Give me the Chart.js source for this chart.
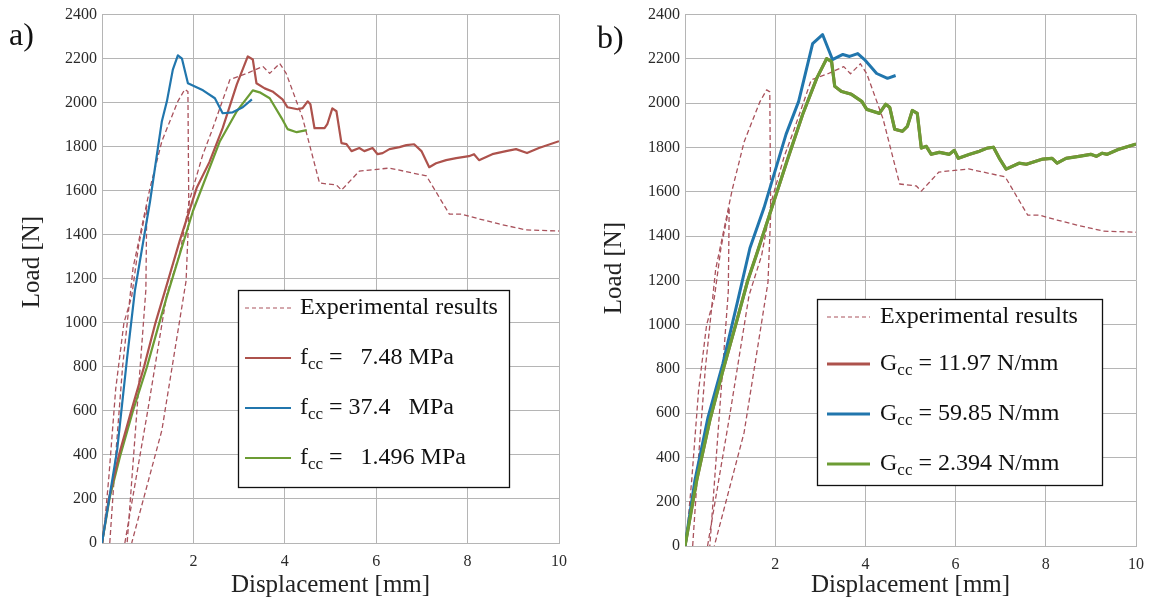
<!DOCTYPE html>
<html>
<head>
<meta charset="utf-8">
<script src="https://cdn.jsdelivr.net/npm/chart.js@4/dist/chart.umd.min.js"></script>
<style>
  html, body { margin: 0; padding: 0; background: #fff; }
  #wrap { position: relative; width: 1153px; height: 610px; }
  canvas { position: absolute; top: 0; }
  #ca { left: 0; }
  #cb { left: 576px; }
</style>
</head>
<body>
<div id="wrap">
  <canvas id="ca" width="576" height="610"></canvas>
  <canvas id="cb" width="577" height="610"></canvas>
</div>
<script>
// tick labels
var xTickValues = [0, 2, 4, 6, 8, 10];
var xTickLabels = ['', '2', '4', '6', '8', '10'];
var yTickValues = [0, 200, 400, 600, 800, 1000, 1200, 1400, 1600, 1800, 2000, 2200, 2400];

// experimental results (same test curves in both panels)
var expA_x = [0.02, 0.15, 0.3, 0.48, 0.65, 0.8, 0.98, 0.96, 0.55];
var expA_y = [0, 300, 700, 1000, 1120, 1350, 1530, 1150, 0];
var expB_x = [0.17, 0.3, 0.45, 0.68, 1.05, 1.2, 1.31, 1.66, 1.81, 1.88, 1.9, 1.84, 1.31, 0.65];
var expB_y = [0, 400, 800, 1250, 1612, 1734, 1825, 2006, 2060, 2051, 1500, 1191, 512, 0];
var expC_x = [0.5, 1.0, 1.42, 1.7, 1.92, 2.2, 2.4, 2.8, 3.17, 3.52, 3.67, 3.89, 4.03, 4.39, 4.76, 5.13, 5.24, 5.63, 6.29, 7.1, 7.6, 7.86, 8.25, 8.69, 9.28, 10];
var expC_y = [0, 600, 1132, 1313, 1560, 1760, 1870, 2105, 2133, 2165, 2133, 2178, 2133, 1930, 1635, 1626, 1603, 1689, 1703, 1667, 1494, 1494, 1472, 1449, 1422, 1417];

// panel a) simulations
var redA_x = [0, 0.15, 0.37, 0.64, 0.92, 1.17, 1.38, 1.7, 2.07, 2.35, 2.64, 2.95, 3.19, 3.3, 3.38, 3.56, 3.73, 3.95, 4.06, 4.28, 4.39, 4.5, 4.56, 4.65, 4.87, 4.93, 5.04, 5.13, 5.24, 5.35, 5.46, 5.63, 5.74, 5.92, 6.03, 6.14, 6.29, 6.51, 6.66, 6.83, 6.99, 7.16, 7.31, 7.53, 7.75, 8.03, 8.14, 8.25, 8.54, 8.84, 9.06, 9.3, 9.56, 10];
var redA_y = [0, 200, 400, 600, 800, 1000, 1146, 1372, 1612, 1730, 1884, 2083, 2210, 2196, 2088, 2065, 2051, 2015, 1979, 1970, 1975, 2006, 1993, 1884, 1884, 1902, 1974, 1961, 1816, 1812, 1780, 1794, 1780, 1794, 1766, 1771, 1789, 1798, 1807, 1811, 1780, 1707, 1725, 1739, 1748, 1757, 1766, 1739, 1766, 1780, 1789, 1771, 1794, 1825];
var blueA_x = [0, 0.07, 0.33, 0.55, 0.72, 1.05, 1.31, 1.42, 1.55, 1.66, 1.75, 1.88, 2.21, 2.47, 2.64, 2.86, 3.08, 3.28];
var blueA_y = [0, 90, 420, 842, 1146, 1550, 1916, 2006, 2150, 2215, 2200, 2088, 2056, 2020, 1952, 1956, 1979, 2015];
var greenA_x = [0, 0.17, 0.39, 0.68, 0.98, 1.2, 1.42, 1.99, 2.58, 2.95, 3.3, 3.45, 3.67, 3.93, 4.06, 4.26, 4.48];
var greenA_y = [0, 208, 390, 602, 797, 960, 1120, 1508, 1825, 1961, 2056, 2047, 2020, 1930, 1880, 1866, 1875];

// panel b) simulations
var greenB_x = [0, 0.26, 0.55, 0.84, 1.15, 1.39, 1.59, 1.88, 2.26, 2.61, 2.92, 3.14, 3.25, 3.32, 3.47, 3.69, 3.92, 4.03, 4.31, 4.45, 4.54, 4.65, 4.82, 4.93, 5.04, 5.15, 5.24, 5.35, 5.46, 5.64, 5.86, 5.97, 6.06, 6.31, 6.53, 6.7, 6.84, 6.97, 7.12, 7.41, 7.57, 7.92, 8.14, 8.25, 8.45, 8.74, 9.0, 9.12, 9.25, 9.36, 9.62, 10];
var greenB_y = [0, 297, 567, 792, 1018, 1198, 1319, 1499, 1738, 1950, 2112, 2201, 2188, 2076, 2053, 2040, 2008, 1972, 1954, 1995, 1981, 1882, 1873, 1895, 1967, 1954, 1797, 1805, 1769, 1778, 1769, 1787, 1751, 1769, 1783, 1797, 1801, 1751, 1702, 1729, 1724, 1747, 1751, 1729, 1751, 1760, 1769, 1760, 1774, 1769, 1792, 1815];
var redB_x = greenB_x;   // lies under the green curve
var redB_y = greenB_y;
var blueB_x = [0, 0.22, 0.51, 0.84, 1.17, 1.44, 1.75, 2.24, 2.52, 2.83, 3.05, 3.27, 3.5, 3.65, 3.83, 3.98, 4.25, 4.49, 4.67];
var blueB_y = [0, 297, 581, 824, 1108, 1346, 1526, 1859, 2008, 2269, 2310, 2197, 2220, 2211, 2224, 2197, 2134, 2112, 2125];

// legend texts
var legendA = [
  { main: 'Experimental results' },
  { main: 'f', sub: 'cc', rest: ' =   7.48 MPa' },
  { main: 'f', sub: 'cc', rest: ' = 37.4   MPa' },
  { main: 'f', sub: 'cc', rest: ' =   1.496 MPa' }
];
var legendB = [
  { main: 'Experimental results' },
  { main: 'G', sub: 'cc', rest: ' = 11.97 N/mm' },
  { main: 'G', sub: 'cc', rest: ' = 59.85 N/mm' },
  { main: 'G', sub: 'cc', rest: ' = 2.394 N/mm' }
];

var RED = '#ad524c', BLUE = '#2176ad', GREEN = '#6c9c34', EXP = '#a9525c';
var SERIF = '"Liberation Serif", "Times New Roman", serif';

function pts(xs, ys) {
  return xs.map(function (x, i) { return { x: x, y: ys[i] }; });
}

function expSet(xs, ys) {
  return { data: pts(xs, ys), borderColor: EXP, borderWidth: 1.3, borderDash: [5, 3], order: 5 };
}

// panel letter, vertical axis title and boxed legend with subscripts
var boxLegend = {
  id: 'boxLegend',
  afterDraw: function (chart, args, o) {
    var ctx = chart.ctx;
    ctx.save();
    ctx.fillStyle = '#111';
    ctx.textBaseline = 'alphabetic';
    ctx.font = '32px ' + SERIF;
    ctx.fillText(o.letter, o.letterX, o.letterY);

    ctx.save();
    ctx.translate(o.yTitle[0], o.yTitle[1]);
    ctx.rotate(-Math.PI / 2);
    ctx.textAlign = 'center';
    ctx.textBaseline = 'middle';
    ctx.fillStyle = '#222';
    ctx.font = '25px ' + SERIF;
    ctx.fillText('Load [N]', 0, 0);
    ctx.restore();

    var b = o.box;
    ctx.fillStyle = '#fff';
    ctx.fillRect(b[0], b[1], b[2], b[3]);
    ctx.strokeStyle = '#111';
    ctx.lineWidth = 1.3;
    ctx.strokeRect(b[0] + 0.5, b[1] + 0.5, b[2], b[3]);

    o.rows.forEach(function (r, i) {
      var y = o.rowY[i];
      ctx.strokeStyle = o.colors[i];
      ctx.lineWidth = i === 0 ? 1.2 : o.lineW;
      ctx.setLineDash(i === 0 ? [4, 3] : []);
      ctx.beginPath();
      ctx.moveTo(o.lineX[0], y);
      ctx.lineTo(o.lineX[1], y);
      ctx.stroke();
      ctx.setLineDash([]);

      ctx.fillStyle = '#111';
      ctx.textBaseline = 'middle';
      ctx.font = '24px ' + SERIF;
      var x = o.textX;
      ctx.fillText(r.main, x, y);
      x += ctx.measureText(r.main).width;
      if (r.sub) {
        ctx.font = '17px ' + SERIF;
        ctx.fillText(r.sub, x, y + 7);
        x += ctx.measureText(r.sub).width;
        ctx.font = '24px ' + SERIF;
        ctx.fillText(r.rest, x, y);
      }
    });
    ctx.restore();
  }
};

function makePanel(id, datasets, g, legendOpts) {
  new Chart(document.getElementById(id), {
    type: 'line',
    data: { datasets: datasets },
    plugins: [boxLegend],
    options: {
      responsive: false,
      animation: false,
      layout: { padding: { top: 13, right: g.right, left: 0, bottom: 0 } },
      elements: { point: { radius: 0 }, line: { tension: 0, borderJoinStyle: 'round', fill: false } },
      plugins: { legend: { display: false }, tooltip: { enabled: false }, boxLegend: legendOpts },
      scales: {
        x: {
          type: 'linear', min: 0, max: 10,
          afterBuildTicks: function (s) { s.ticks = xTickValues.map(function (v) { return { value: v }; }); },
          afterFit: function (s) { s.height = g.xh; },
          grid: { color: '#b5b5b5', lineWidth: 1, drawTicks: false },
          border: { color: '#b5b5b5' },
          ticks: {
            padding: 9, color: '#2a2a2a', font: { family: SERIF, size: 16 },
            callback: function (v, i) { return xTickLabels[i]; }
          },
          title: { display: true, text: 'Displacement [mm]', color: '#222', font: { family: SERIF, size: 25 }, padding: { top: 0, bottom: 10 } }
        },
        y: {
          type: 'linear', min: 0, max: 2400,
          afterBuildTicks: function (s) { s.ticks = yTickValues.map(function (v) { return { value: v }; }); },
          afterFit: function (s) { s.width = g.yw; },
          grid: { color: '#b5b5b5', lineWidth: 1, drawTicks: false },
          border: { color: '#b5b5b5' },
          ticks: {
            padding: 5, color: '#2a2a2a', font: { family: SERIF, size: 16 },
            callback: function (v) { return String(v); }
          }
        }
      }
    }
  });
}

makePanel('ca', [
  expSet(expA_x, expA_y),
  expSet(expB_x, expB_y),
  expSet(expC_x, expC_y),
  { data: pts(greenA_x, greenA_y), borderColor: GREEN, borderWidth: 2.2, order: 3 },
  { data: pts(redA_x, redA_y), borderColor: RED, borderWidth: 2.2, order: 2 },
  { data: pts(blueA_x, blueA_y), borderColor: BLUE, borderWidth: 2.2, order: 1 }
], { right: 16, xh: 67, yw: 102 }, {
  letter: 'a)', letterX: 9, letterY: 45,
  yTitle: [32, 262],
  box: [238, 290, 271, 197],
  rowY: [308, 358, 408, 458],
  lineX: [245, 291], textX: 300, lineW: 2,
  colors: [EXP, RED, BLUE, GREEN],
  rows: legendA
});

makePanel('cb', [
  expSet(expA_x, expA_y),
  expSet(expB_x, expB_y),
  expSet(expC_x, expC_y),
  { data: pts(redB_x, redB_y), borderColor: RED, borderWidth: 3, order: 3 },
  { data: pts(blueB_x, blueB_y), borderColor: BLUE, borderWidth: 3, order: 2 },
  { data: pts(greenB_x, greenB_y), borderColor: GREEN, borderWidth: 3.2, order: 1 }
], { right: 16, xh: 64, yw: 109 }, {
  letter: 'b)', letterX: 21, letterY: 48,
  yTitle: [38, 268],
  box: [241, 299, 285, 186],
  rowY: [317, 364, 414, 464],
  lineX: [251, 294], textX: 304, lineW: 3,
  colors: [EXP, RED, BLUE, GREEN],
  rows: legendB
});
</script>
</body>
</html>
